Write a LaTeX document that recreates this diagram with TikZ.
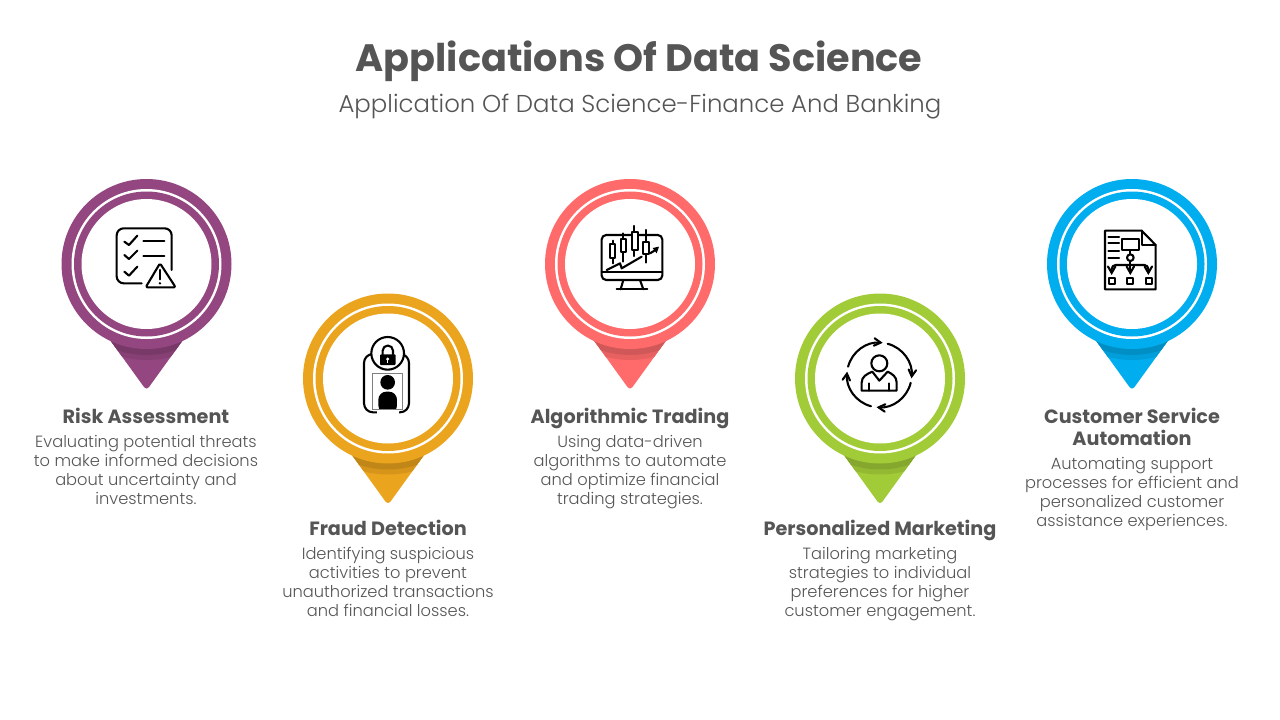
\documentclass[tikz,border=0pt]{standalone}
\usepackage{fontspec}
\setmainfont{Poppins}
\newfontfamily\lightfont{Poppins Light}
\usetikzlibrary{arrows,shapes,positioning}
\definecolor{textgray}{HTML}{555555}
\definecolor{pinpurple}{HTML}{93467F}
\definecolor{pinorange}{HTML}{EBA41D}
\definecolor{pincoral}{HTML}{FF6B6B}
\definecolor{pingreen}{HTML}{A2CB38}
\definecolor{pinblue}{HTML}{00AEEF}

\begin{document}
\begin{tikzpicture}[
        x=1pt, y=-1pt,
        >=angle 60,
        every node/.style={text=textgray, align=center, inner sep=0pt},
        ringnode/.style={circle, minimum size=#1, draw=none},
        headline/.style={font=\bfseries\fontsize{19.2}{22}\selectfont},
        bodytext/.style={font=\lightfont\fontsize{16.25}{19}\selectfont},
        icon/.style={line width=2.1pt, black, line cap=round, line join=round}
    ]
  \useasboundingbox (0,0) rectangle (1280,720);

  % Title
  \node (title) at (639,61.5) {\bfseries\fontsize{38.2}{42}\selectfont Applications Of Data Science};
  \node (subtitle) at (640,106.5) {\lightfont\fontsize{24.4}{28}\selectfont Application Of Data Science-Finance And Banking};

  % Pins
  \foreach \name/\cx/\cy/\col in {risk/146.5/264/pinpurple, fraud/388/378.5/pinorange, trading/630/264/pincoral, marketing/880/378.5/pingreen, service/1132/264/pinblue} {
    \begin{scope}
      \clip[rounded corners=4pt] (\cx-48,\cy+60) -- (\cx,\cy+126.5) -- (\cx+48,\cy+60) -- cycle;
      \fill[\col] (\cx-60,\cy+50) rectangle (\cx+60,\cy+130);
      \fill[\col!91!black] (\cx,\cy) circle (96);
      \fill[\col!82!black] (\cx,\cy) circle (91);
    \end{scope}
    \node[ringnode=170pt, fill=\col] (\name) at (\cx,\cy) {};
    \node[ringnode=150pt, fill=white] (\name line) at (\cx,\cy) {};
    \node[ringnode=145pt, fill=\col] (\name band) at (\cx,\cy) {};
    \node[ringnode=130pt, fill=white] (\name core) at (\cx,\cy) {};
  }

  % Labels
  \node[headline] (risklabel) at (146,416) {Risk Assessment};
  \node[bodytext] (risktext) at (146,469.5) {Evaluating potential threats\\to make informed decisions\\about uncertainty and\\investments.};
  \node[headline] (fraudlabel) at (388,528) {Fraud Detection};
  \node[bodytext] (fraudtext) at (388,581.5) {Identifying suspicious\\activities to prevent\\unauthorized transactions\\and financial losses.};
  \node[headline] (tradinglabel) at (630,418.5) {Algorithmic Trading};
  \node[bodytext] (tradingtext) at (630,472.5) {Using data-driven\\algorithms to automate\\and optimize financial\\trading strategies.};
  \node[headline] (marketinglabel) at (880,530.5) {Personalized Marketing};
  \node[bodytext] (marketingtext) at (880,584.5) {Tailoring marketing\\strategies to individual\\preferences for higher\\customer engagement.};
  \node[headline] (servicelabel) at (1132,427) {Customer Service\\Automation};
  \node[bodytext] (servicetext) at (1132,494) {Automating support\\processes for efficient and\\personalized customer\\assistance experiences.};

  % Risk icon
  \begin{scope}[shift={(105,220)}, x=0.3333pt, y=-0.3333pt, icon]
    \draw[rounded corners=7pt] (110,190) -- (35,190) -- (35,25) -- (200,25) -- (200,150);
    \draw (58,65) -- (72,75) -- (97,47);
    \draw (58,105) -- (72,117) -- (97,92);
    \draw (58,155) -- (72,167) -- (97,140);
    \draw (115,62) -- (178,62);
    \draw (115,108) -- (178,108);
    \draw[rounded corners=1.5pt] (165,130) -- (212,202) -- (122,202) -- cycle;
    \draw (165,150) -- (165,178);
    \fill (165,190) circle (4);
  \end{scope}

  % Fraud icon
  \begin{scope}[shift={(340,330)}, x=0.3333pt, y=-0.3333pt, icon]
    \draw[rounded corners=9pt] (93,72) -- (72,72) -- (72,247) -- (207,247) -- (207,72) -- (193,72);
    \draw[fill=white] (143,70) circle (49);
    \draw[line width=0.9pt, gray] (98,130) rectangle (187,238);
    \fill (143,157) circle (22);
    \fill[rounded corners=8pt] (115,250) -- (115,185) -- (171,185) -- (171,250) -- cycle;
    \fill[white] (110,238.5) rectangle (176,255);
    \draw[line width=0.9pt, gray] (98,238) -- (187,238);
    \fill[rounded corners=1pt] (120,73) rectangle (167,105);
    \draw (128,73) -- (128,62) arc (180:360:15.5) -- (159,73);
    \fill[white] (143,87) circle (5);
    \fill[white] (141,87) rectangle (145,98);
  \end{scope}

  % Trading icon
  \begin{scope}[shift={(590,220)}, x=0.3333pt, y=-0.3333pt, icon]
    \draw[rounded corners=4.5pt] (120,45) -- (217,45) -- (217,180) -- (35,180) -- (35,45) -- cycle;
    \draw (35,155) -- (217,155);
    \draw (100,180) -- (92,208);
    \draw (150,180) -- (160,208);
    \draw (80,208) -- (172,208);
    \draw (68,62) -- (68,130);
    \draw[fill=white] (60,72) rectangle (76,115);
    \draw (100,40) -- (100,125);
    \draw[fill=white] (93,57) rectangle (107,97);
    \draw (133,18) -- (133,108);
    \draw[fill=white] (125,35) rectangle (143,90);
    \draw (167,30) -- (167,128);
    \draw[fill=white] (160,65) rectangle (176,103);
    \draw (50,150) -- (90,130) -- (95,145) -- (155,110);
    \draw (180,100) -- (200,88);
    \fill (207,80) -- (188,84) -- (200,100) -- cycle;
  \end{scope}

  % Marketing icon
  \begin{scope}[shift={(835,330)}, x=0.3333pt, y=-0.3333pt, icon]
    \draw[->] (133,135) ++(195:97) arc (195:276:97);
    \draw[->] (133,135) ++(285:97) arc (285:366:97);
    \draw[->] (133,135) ++(14:97) arc (14:95:97);
    \draw[->] (133,135) ++(105:97) arc (105:186:97);
    \draw (133,100) circle (24);
    \draw (80,182) -- (80,158) .. controls (80,140) and (95,132) .. (112,125) -- (133,152) -- (158,125) .. controls (172,132) and (185,140) .. (185,158) -- (185,182) -- cycle;
    \draw (103,160) -- (103,182);
    \draw (162,160) -- (162,182);
  \end{scope}

  % Service icon
  \begin{scope}[shift={(1095,220)}, x=0.3333pt, y=-0.3333pt, icon]
    \draw (30,32) -- (140,32) -- (182,75) -- (182,208) -- (30,208) -- cycle;
    \draw (140,32) -- (140,75) -- (182,75);
    \foreach \ly in {50,70,92,115} {
      \draw (40,\ly) -- (72,\ly);
    }
    \draw (82,58) rectangle (132,90);
    \draw (106,90) -- (106,102);
    \draw (106,113) circle (10);
    \draw[->] (106,123) -- (106,165);
    \draw[->, rounded corners=4pt] (106,135) -- (50,135) -- (50,165);
    \draw[->, rounded corners=4pt] (106,135) -- (160,135) -- (160,165);
    \draw (42,175) rectangle (60,193);
    \draw (97,175) rectangle (115,193);
    \draw (152,175) rectangle (170,193);
  \end{scope}
\end{tikzpicture}
\end{document}
